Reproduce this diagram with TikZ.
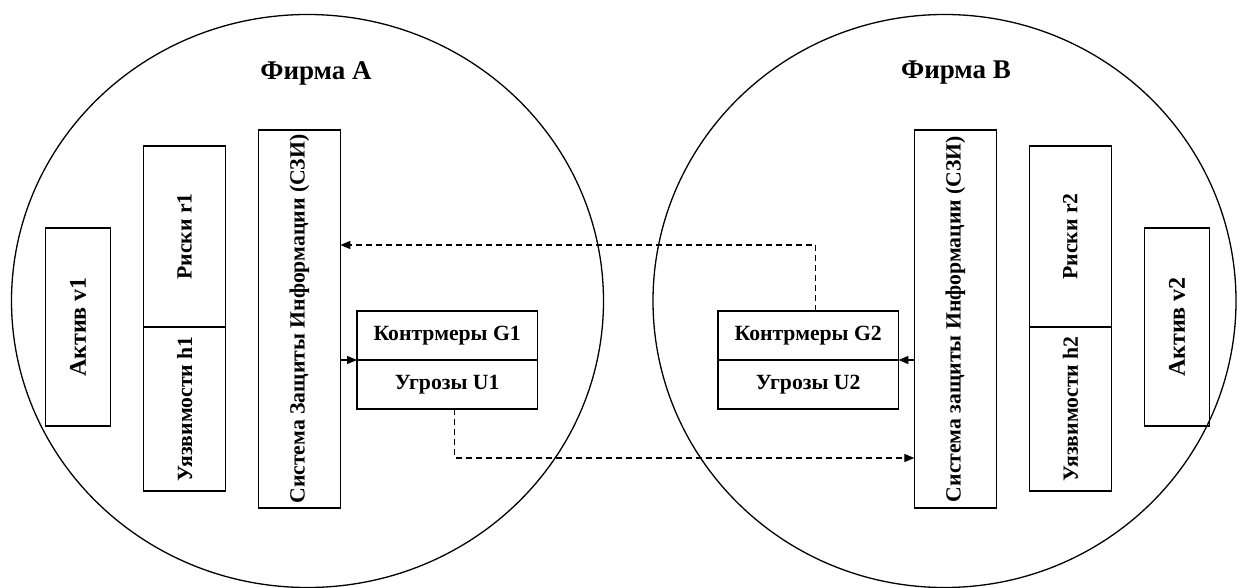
\documentclass[tikz,border=0pt]{standalone}
\usepackage{fontspec}
\setmainfont{Liberation Serif}
\usetikzlibrary{arrows.meta}

\tikzset{
  firm/.style={line width=1.3pt},
  blk/.style={draw, line width=1.2pt, inner sep=0pt, outer sep=0pt,
    font=\bfseries\fontsize{21.7}{24}\selectfont, align=center},
  vblk/.style={blk, rotate=90},
  asset/.style={vblk, font=\bfseries\fontsize{24}{26}\selectfont},
  title/.style={font=\bfseries\fontsize{27}{30}\selectfont},
  link/.style={line width=1.1pt, dash pattern=on 6pt off 4pt,
    -{Triangle[length=10pt,width=8pt]}},
  solidlink/.style={line width=1.1pt, -{Triangle[length=10pt,width=8pt]}}
}

\begin{document}
\begin{tikzpicture}[x=1pt,y=-1pt]
  \useasboundingbox (0,0) rectangle (1237,588);

  % the two firms
  \draw[firm] (307.5,301) ellipse [x radius=296, y radius=286.5];
  \draw[firm] (944.5,301) ellipse [x radius=291.5, y radius=286.5];
  \node[title] (tA) at (316,73) {Фирма А};
  \node[title] (tB) at (956,73) {Фирма В};

  % firm A blocks (rotated nodes: minimum width runs along the text;
  % with the flipped y axis a rotated node's south side faces right)
  \node[asset, minimum width=198pt, minimum height=65.2pt] (v1) at (78.1,327) {Актив v1};
  \node[vblk, minimum width=181pt, minimum height=82.3pt] (r1) at (184.6,236.5) {Риски r1};
  \node[vblk, minimum width=164pt, minimum height=82.3pt] (h1) at (184.6,409) {Уязвимости h1};
  \node[vblk, minimum width=378pt, minimum height=82.2pt] (sziA) at (299.3,319) {Система Защиты Информации (СЗИ)};
  \node[blk, minimum width=180.4pt, minimum height=49pt] (g1) at (447.2,335.5) {Контрмеры G1};
  \node[blk, minimum width=180.4pt, minimum height=49pt] (u1) at (447.2,384.5) {Угрозы U1};

  % firm B blocks
  \node[blk, minimum width=180.4pt, minimum height=49pt] (g2) at (808.2,335.5) {Контрмеры G2};
  \node[blk, minimum width=180.4pt, minimum height=49pt] (u2) at (808.2,384.5) {Угрозы U2};
  \node[vblk, minimum width=378pt, minimum height=82.2pt] (sziB) at (955.4,319) {Система защиты Информации (СЗИ)};
  \node[vblk, minimum width=181pt, minimum height=82.3pt] (r2) at (1070.4,236.5) {Риски r2};
  \node[vblk, minimum width=164pt, minimum height=82.3pt] (h2) at (1070.4,409) {Уязвимости h2};
  \node[asset, minimum width=198pt, minimum height=65.2pt] (v2) at (1177.1,327) {Актив v2};

  % protection system feeds its own countermeasures / threats block
  \draw[solidlink] (g1.south west -| sziA.south) -- (g1.south west);
  \draw[solidlink] (g2.south east -| sziB.north) -- (g2.south east);

  % cross links between the firms
  \coordinate (bendB) at (815.5,245);
  \coordinate (bendA) at (454.7,458);
  \draw[link] (g2.north -| bendB) -- (bendB) -- (bendB -| sziA.south);
  \draw[link] (u1.south -| bendA) -- (bendA) -- (bendA -| sziB.north);
\end{tikzpicture}
\end{document}
